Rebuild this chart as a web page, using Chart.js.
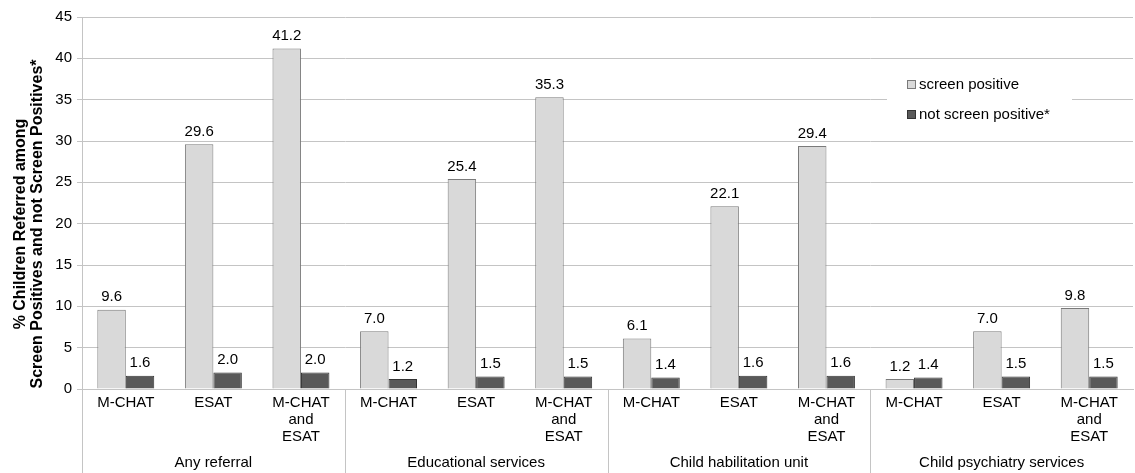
<!DOCTYPE html>
<html>
<head>
<meta charset="utf-8">
<script src="https://cdn.jsdelivr.net/npm/chart.js@4.4.1/dist/chart.umd.min.js"></script>
<style>
  html, body { margin: 0; padding: 0; background: #ffffff; }
  #wrap { width: 1135px; height: 473px; position: relative; }
</style>
</head>
<body>
<div id="wrap"><canvas id="c" width="1135" height="473"></canvas></div>
<script>
// Screening instruments shown inside each referral destination
const instruments = ['M-CHAT', 'ESAT', ['M-CHAT', 'and', 'ESAT']];
const groups = ['Any referral', 'Educational services', 'Child habilitation unit', 'Child psychiatry services'];
const categories = groups.flatMap(() => instruments);

// Percent of children referred
const screenPositive = [9.6, 29.6, 41.2, 7.0, 25.4, 35.3, 6.1, 22.1, 29.4, 1.2, 7.0, 9.8];
const notScreenPositive = [1.6, 2.0, 2.0, 1.2, 1.5, 1.5, 1.4, 1.6, 1.6, 1.4, 1.5, 1.5];

const seriesNames = ['screen positive', 'not screen positive*'];
const yTitle = ['% Children Referred among', 'Screen Positives and not Screen Positives*'];
const yTicks = [0, 5, 10, 15, 20, 25, 30, 35, 40, 45];

const FONT = '"Liberation Sans", Arial, Helvetica, sans-serif';
const GRID = '#c4c4c4';

// Value labels above every bar
const valueLabels = {
  id: 'valueLabels',
  afterDatasetsDraw(chart) {
    const ctx = chart.ctx;
    ctx.save();
    ctx.font = '15px ' + FONT;
    ctx.fillStyle = '#000';
    ctx.textAlign = 'center';
    ctx.textBaseline = 'bottom';
    chart.data.datasets.forEach((ds, i) => {
      chart.getDatasetMeta(i).data.forEach((bar, j) => {
        ctx.fillText(ds.data[j].toFixed(1), bar.x, bar.y - 5);
      });
    });
    ctx.restore();
  }
};

// Group captions, separators under the axis, y title and legend
const decorations = {
  id: 'decorations',
  afterDraw(chart) {
    const ctx = chart.ctx;
    const x = chart.scales.x;
    const area = chart.chartArea;
    const bottom = chart.height;
    const n = instruments.length;
    ctx.save();
    ctx.strokeStyle = GRID;
    ctx.lineWidth = 1;
    // vertical separators between referral groups
    const edges = [];
    for (let g = 0; g <= groups.length; g++) {
      let px;
      if (g === 0) px = area.left;
      else if (g === groups.length) px = area.right;
      else px = (x.getPixelForValue(g * n - 1) + x.getPixelForValue(g * n)) / 2;
      edges.push(px);
      if (g < groups.length) {
        const lx = Math.round(px) + 0.5;
        ctx.beginPath();
        ctx.moveTo(lx, area.bottom);
        ctx.lineTo(lx, bottom);
        ctx.stroke();
      }
    }
    // group captions
    ctx.font = '15px ' + FONT;
    ctx.fillStyle = '#000';
    ctx.textAlign = 'center';
    ctx.textBaseline = 'middle';
    groups.forEach((g, i) => {
      ctx.fillText(g, (edges[i] + edges[i + 1]) / 2, 463);
    });
    // y axis title, centred on the full axis line
    ctx.font = 'bold 16px ' + FONT;
    ctx.textBaseline = 'alphabetic';
    ctx.translate(0, (area.top + bottom) / 2 - 21);
    ctx.rotate(-Math.PI / 2);
    ctx.fillText(yTitle[0], 0, 25);
    ctx.fillText(yTitle[1], 0, 42);
    ctx.restore();

    // legend inside the plot area
    ctx.save();
    ctx.fillStyle = '#fff';
    ctx.fillRect(887, 64, 185, 66);
    ctx.font = '15px ' + FONT;
    ctx.textBaseline = 'middle';
    ctx.textAlign = 'left';
    const rows = [85, 115];
    chart.data.datasets.forEach((ds, i) => {
      ctx.fillStyle = ds.backgroundColor;
      ctx.fillRect(907.5, rows[i] - 4.5, 8, 8);
      ctx.strokeStyle = ds.borderColor;
      ctx.lineWidth = 1;
      ctx.strokeRect(907.5, rows[i] - 4.5, 8, 8);
      ctx.fillStyle = '#000';
      ctx.fillText(ds.label, 919, rows[i]);
    });
    ctx.restore();
  }
};

new Chart(document.getElementById('c'), {
  type: 'bar',
  data: {
    labels: categories,
    datasets: [
      {
        label: seriesNames[0],
        data: screenPositive,
        backgroundColor: '#d9d9d9',
        borderColor: '#7a7a7a',
        borderWidth: 1
      },
      {
        label: seriesNames[1],
        data: notScreenPositive,
        backgroundColor: '#595959',
        borderColor: '#333333',
        borderWidth: 1
      }
    ]
  },
  options: {
    responsive: false,
    animation: false,
    devicePixelRatio: 1,
    layout: { padding: { top: 17, right: 2, left: 0, bottom: 0 } },
    plugins: {
      legend: { display: false },
      tooltip: { enabled: false }
    },
    datasets: {
      bar: { categoryPercentage: 0.65, barPercentage: 1.0 }
    },
    scales: {
      x: {
        grid: { display: false, drawTicks: false },
        border: { display: true, color: GRID },
        ticks: {
          font: { family: FONT, size: 15, lineHeight: 1.13 },
          color: '#000',
          padding: 5,
          maxRotation: 0,
          autoSkip: false
        },
        afterFit(s) { s.height = 84; }
      },
      y: {
        min: 0,
        max: 45,
        afterBuildTicks(s) { s.ticks = yTicks.map(v => ({ value: v })); },
        grid: { color: GRID, tickLength: 5, drawTicks: true },
        border: { display: true, color: GRID },
        ticks: {
          font: { family: FONT, size: 15 },
          color: '#000',
          padding: 5
        },
        afterFit(s) { s.width = 82; }
      }
    }
  },
  plugins: [valueLabels, decorations]
});
</script>
</body>
</html>
